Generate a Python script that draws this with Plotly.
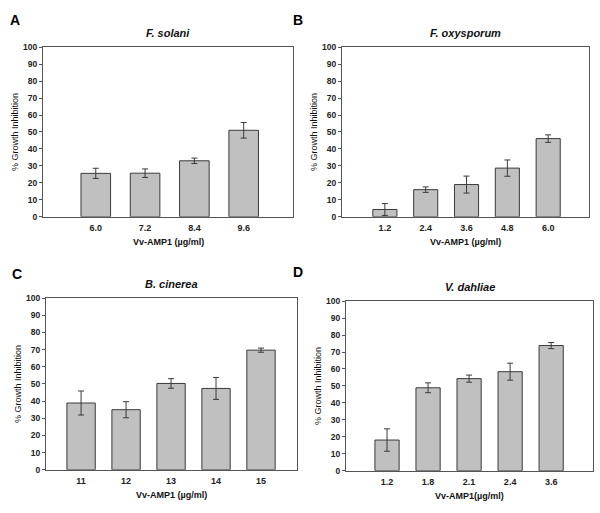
import plotly.graph_objects as go

# ---- data ----
conc_A = ["6.0", "7.2", "8.4", "9.6"]
inhib_A = [25.6, 25.7, 33.0, 51.0]
err_A = [3.0, 2.5, 1.6, 4.6]

conc_B = ["1.2", "2.4", "3.6", "4.8", "6.0"]
inhib_B = [4.3, 16.0, 19.0, 28.7, 46.1]
err_B = [3.5, 1.6, 5.0, 4.8, 2.2]

conc_C = ["11", "12", "13", "14", "15"]
inhib_C = [38.9, 35.0, 50.3, 47.4, 69.7]
err_C = [7.0, 4.7, 2.8, 6.4, 1.2]

conc_D = ["1.2", "1.8", "2.1", "2.4", "3.6"]
inhib_D = [18.1, 48.9, 54.3, 58.4, 73.8]
err_D = [6.6, 2.9, 2.1, 5.0, 1.8]

titles = ["F. solani", "F. oxysporum", "B. cinerea", "V. dahliae"]
letters = ["A", "B", "C", "D"]
xtitles = ["Vv-AMP1 (µg/ml)", "Vv-AMP1 (µg/ml)", "Vv-AMP1 (µg/ml)", "Vv-AMP1(µg/ml)"]
ytitle = "% Growth Inhibition"

W, H = 600, 513
FONT = "Liberation Sans, Arial, sans-serif"
BAR = "#c0c0c0"
EDGE = "#3a3a3a"
AX = "#555555"

# plot areas in pixels: (left, right, top, bottom)
areas = [(43, 293, 43, 216), (342, 589, 43, 216), (46, 297, 299, 474), (346, 593, 302, 475)]
xranges = [[-1.07, 4.0], [-1.05, 5.0], [-0.78, 4.8], [-1.0, 5.02]]
widths = [0.6, 0.59, 0.63, 0.59]

panels = [(conc_A, inhib_A, err_A), (conc_B, inhib_B, err_B),
          (conc_C, inhib_C, err_C), (conc_D, inhib_D, err_D)]

fig = go.Figure()
annotations = []
for i, ((cx, vy, ey), (l, r, t, b)) in enumerate(zip(panels, areas)):
    sfx = "" if i == 0 else str(i + 1)
    fig.add_trace(go.Bar(
        x=cx, y=vy, width=widths[i],
        marker=dict(color=BAR, line=dict(color=EDGE, width=1)),
        error_y=dict(type="data", array=ey, visible=True, color=EDGE, thickness=1, width=3),
        xaxis="x" + sfx, yaxis="y" + sfx, showlegend=False,
    ))
    xd = [l / W, r / W]
    yd = [1 - b / H, 1 - t / H]
    fig.layout["xaxis" + sfx] = dict(
        domain=xd, anchor="y" + sfx, type="category", range=xranges[i],
        showgrid=False, zeroline=False, showline=True, linecolor=AX, linewidth=1,
        mirror=True, ticks="", ticklabelstandoff=2,
        tickfont=dict(family=FONT, size=9, color="#222", weight="bold"),
    )
    fig.layout["yaxis" + sfx] = dict(
        domain=yd, anchor="x" + sfx, range=[0, 100], dtick=10,
        showgrid=False, zeroline=False, showline=True, linecolor=AX, linewidth=1,
        mirror=True, ticks="outside", ticklen=3, tickcolor=AX,
        tickfont=dict(family=FONT, size=8.5, color="#222", weight="bold"),
    )
    cxp = (l + r) / 2
    # panel title
    annotations.append(dict(text="<b><i>%s</i></b>" % titles[i], x=cxp / W, y=1 - (t - 14) / H,
                            xref="paper", yref="paper", showarrow=False,
                            font=dict(family=FONT, size=11, color="#111"),
                            xanchor="center", yanchor="middle"))
    # x title
    annotations.append(dict(text="<b>%s</b>" % xtitles[i], x=cxp / W, y=1 - (b + 26) / H,
                            xref="paper", yref="paper", showarrow=False,
                            font=dict(family=FONT, size=9, color="#111"),
                            xanchor="center", yanchor="middle"))
    # y title
    annotations.append(dict(text=ytitle, x=(l - 28) / W, y=1 - ((t + b) / 2) / H,
                            xref="paper", yref="paper", showarrow=False, textangle=-90,
                            font=dict(family=FONT, size=9, color="#111"),
                            xanchor="center", yanchor="middle"))

letter_pos = [(15, 15), (298, 15), (17, 274), (298, 272)]
for letter, (px, py) in zip(letters, letter_pos):
    annotations.append(dict(text="<b>%s</b>" % letter, x=px / W, y=1 - py / H,
                            xref="paper", yref="paper", showarrow=False,
                            font=dict(family=FONT, size=14, color="#000"),
                            xanchor="center", yanchor="middle"))

fig.update_layout(
    width=W, height=H, margin=dict(l=0, r=0, t=0, b=0),
    paper_bgcolor="white", plot_bgcolor="white",
    annotations=annotations, bargap=0.4,
)
fig.write_html(
    "out.html",
    config={"displayModeBar": False},
    post_script="document.body.style.margin='0';document.body.style.overflow='hidden';",
)
